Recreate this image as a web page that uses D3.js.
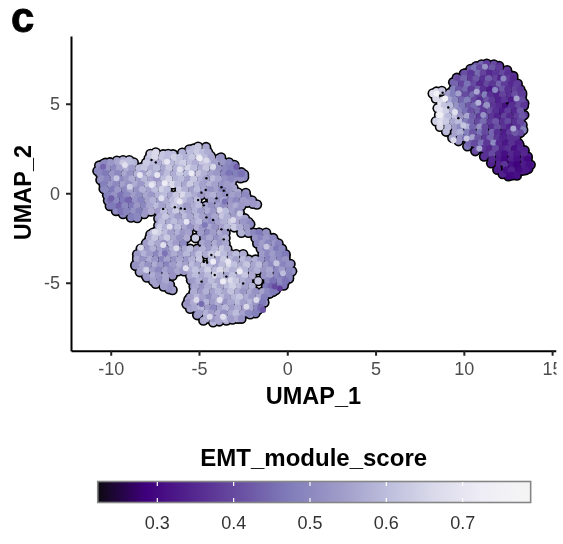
<!DOCTYPE html>
<html>
<head>
<meta charset="utf-8">
<title>EMT module score UMAP</title>
<script src="https://cdn.jsdelivr.net/npm/d3@7"></script>
<style type="text/css">
html, body { margin: 0; padding: 0; background: #fff; }
svg { display: block; font-family: "Liberation Sans", Arial, sans-serif; filter: blur(0.4px); }
</style>
</head>
<body>
<div id="chart"></div>
<script type="text/javascript">
var xTicks = [-10, -5, 0, 5, 10, 15];
var yTicks = [-5, 0, 5];
var scoreTicks = [0.3, 0.4, 0.5, 0.6, 0.7];
var scoreStops = [0.222, 0.285, 0.348, 0.411, 0.474, 0.537, 0.6, 0.663, 0.726, 0.789];
var scoreColors = ["#0c0a10", "#3f007d", "#54278f", "#6a51a3", "#807dba", "#9e9ac8", "#bcbddc", "#dadaeb", "#efedf5", "#f5f5f5"];

// cells along the rim of the large cluster: umap1, umap2, score
var bigEdge = [
-10.75,1.25,.5, -10.65,1.55,.52, -10.4,1.65,.5, -10.05,1.73,.53, -9.65,1.82,.55, -9.3,1.85,.57, -8.95,1.85,.6, -8.7,1.72,.58, -8.25,1.45,.57,
-7.95,1.65,.62, -7.85,1.95,.6, -7.75,2.2,.63, -7.45,2.28,.66, -7.03,2.18,.62, -6.75,2.2,.6, -6.47,2.18,.6, -5.95,2.27,.58, -5.55,2.45,.56, -5.3,2.5,.6, -5.05,2.6,.62, -4.6,2.58,.56,
-4.5,2.3,.57, -4.35,2.1,.56, -4.15,1.75,.55, -3.85,1.95,.54, -3.75,2.0,.52, -3.65,1.75,.53, -3.3,1.72,.5, -3.0,1.58,.48, -2.95,1.3,.47, -2.6,1.17,.49, -2.45,1.05,.5, -2.45,.9,.5,
-2.65,.85,.52, -3.0,.85,.52, -3.15,.6,.55, -3.05,.3,.55, -2.8,.05,.56, -2.35,.02,.52, -2.3,-.2,.5, -2.0,-.4,.52, -1.72,-.62,.55, -1.95,-.58,.53, -2.3,-.52,.54,
-2.72,-.65,.55, -2.7,-1.05,.54, -2.4,-1.4,.55, -2.2,-1.6,.52, -2.1,-1.72,.5, -1.6,-2.2,.5, -1.1,-2.45,.5, -.7,-2.7,.52, -.35,-3.1,.53, -.1,-3.5,.5, .18,-3.95,.5, .27,-4.35,.52,
.1,-4.75,.48, -.2,-5.15,.46, -.65,-5.4,.48, -1.0,-5.6,.5, -1.3,-6.1,.52, -1.65,-6.5,.5, -2.1,-6.75,.54, -2.7,-6.93,.56, -3.1,-7.05,.55, -3.45,-7.1,.57, -3.85,-7.15,.55, -4.2,-7.2,.58, -4.75,-7.1,.56,
-5.1,-6.8,.53, -5.5,-6.45,.55, -5.7,-6.2,.54, -5.6,-5.95,.56, -5.3,-5.6,.55, -5.3,-5.2,.53, -5.45,-4.85,.52, -5.85,-4.35,.54, -6.2,-4.35,.55, -6.4,-4.4,.54, -6.9,-4.8,.52,
-6.65,-5.1,.53, -6.5,-5.4,.54, -6.7,-5.35,.52, -7.0,-5.15,.53, -7.45,-5.05,.55, -7.95,-4.7,.52, -8.35,-4.4,.55, -8.6,-4.05,.53, -8.5,-3.6,.56, -8.25,-3.2,.55, -7.95,-2.75,.57,
-7.65,-2.4,.55, -7.75,-2.3,.56, -7.45,-2.15,.58, -7.3,-1.8,.57, -7.3,-1.4,.55, -7.75,-1.0,.56, -8.1,-1.15,.54, -8.5,-1.38,.52, -8.85,-1.35,.5, -9.3,-1.15,.49, -9.7,-.98,.5,
-10.05,-.7,.47, -10.15,-.4,.49, -10.2,-.1,.48, -10.4,.25,.5, -10.58,.75,.5
];

// interior cells of the large cluster, one list per row: umap1, score
var bigRowY = [2.3, 2.0, 1.7, 1.4, 1.1, 0.8, 0.5, 0.2, -0.1, -0.4, -0.7, -1.0, -1.3, -1.6, -1.9, -2.2, -2.5, -2.8, -3.1, -3.4, -3.7, -4.0, -4.3, -4.6, -4.9, -5.2, -5.5, -5.8, -6.1, -6.4, -6.7, -7.0];
var bigRowCells = [
[-5.5,.6,-5.1,.63,-4.8,.6,-4.5,.57],
[-7.5,.66,-7.1,.62,-6.8,.6,-6.4,.64,-6.1,.61,-5.7,.58,-5.4,.62,-5.0,.66,-4.7,.6,-4.3,.56],
[-10.3,.5,-10,.53,-9.6,.56,-9.3,.62,-8.9,.6,-8,.63,-7.6,.6,-7.3,.57,-6.9,.62,-6.6,.59,-6.2,.61,-5.9,.64,-5.5,.6,-5.2,.57,-4.8,.62,-4.5,.6,-4.1,.55],
[-10.5,.49,-10.2,.52,-9.8,.5,-9.5,.55,-9.1,.58,-8.8,.54,-8.4,.6,-8.1,.62,-7.7,.57,-7.4,.6,-7,.56,-6.7,.62,-6.3,.58,-6,.6,-5.6,.65,-5.3,.6,-4.9,.57,-4.6,.62,-4.2,.58,-3.9,.52,-3.5,.5,-3.2,.48],
[-10.6,.5,-10.3,.47,-9.9,.53,-9.6,.5,-9.2,.56,-8.9,.52,-8.5,.58,-8.2,.55,-7.8,.61,-7.5,.58,-7.1,.55,-6.8,.6,-6.4,.57,-6.1,.63,-5.7,.6,-5.4,.56,-5,.62,-4.7,.58,-4.3,.55,-4,.53,-3.6,.5,-3.3,.46,-2.9,.48,-2.6,.46],
[-10.5,.52,-10.2,.49,-9.8,.54,-9.5,.5,-9.1,.53,-8.8,.57,-8.4,.54,-8.1,.59,-7.7,.56,-7.4,.53,-7,.6,-6.7,.65,-6.3,.58,-6,.6,-5.6,.55,-5.3,.62,-4.9,.58,-4.6,.55,-4.2,.6,-3.9,.56,-3.5,.52,-3.2,.5],
[-10.4,.48,-10,.53,-9.7,.5,-9.3,.55,-9,.52,-8.6,.57,-8.3,.53,-7.9,.6,-7.6,.64,-7.2,.57,-6.9,.62,-6.5,.66,-6.2,.6,-5.8,.56,-5.5,.63,-5.1,.59,-4.8,.55,-4.4,.58,-4.1,.55,-3.7,.52,-3.4,.54],
[-10.3,.5,-9.9,.47,-9.6,.53,-9.2,.5,-8.9,.55,-8.5,.52,-8.2,.58,-7.8,.55,-7.5,.6,-7.1,.64,-6.8,.6,-6.1,.63,-5.8,.58,-5.4,.55,-5.1,.6,-4.7,.56,-4.4,.52,-4,.55,-3.7,.5,-3.3,.53],
[-10.1,.48,-9.8,.52,-9.4,.46,-9.1,.5,-8.7,.54,-8.4,.51,-8,.56,-7.7,.53,-7.3,.58,-7,.6,-6.6,.56,-6.3,.62,-5.9,.66,-5.6,.6,-5.2,.57,-4.9,.53,-4.5,.56,-4.2,.58,-3.8,.54,-3.5,.51,-3.1,.55,-2.8,.53,-2.4,.5],
[-10,.45,-9.7,.5,-9.3,.47,-9,.44,-8.6,.52,-8.3,.49,-7.9,.55,-7.6,.58,-7.2,.54,-6.9,.57,-6.5,.6,-6.2,.64,-5.8,.6,-5.5,.56,-5.1,.6,-4.3,.55,-3.9,.52,-3.6,.56,-3.2,.53,-2.9,.5,-2.5,.54],
[-9.9,.47,-9.5,.44,-9.2,.5,-8.8,.47,-8.5,.53,-8.1,.5,-7.8,.56,-7.4,.6,-7.1,.55,-6.7,.58,-6.4,.62,-6,.58,-5.7,.54,-5.3,.57,-5,.6,-4.6,.56,-4.3,.52,-3.9,.55,-3.6,.51,-3.2,.54,-2.9,.57,-2.6,.53],
[-9.4,.46,-9.1,.49,-8.7,.52,-8.4,.48,-8,.53,-7.7,.57,-7.3,.54,-7,.6,-6.6,.57,-6.3,.63,-5.9,.59,-5.6,.55,-5.2,.58,-4.9,.54,-4.5,.57,-4.2,.53,-3.8,.56,-3.5,.6,-3.1,.55,-2.8,.52],
[-8.8,.48,-8.5,.5,-7.2,.57,-6.9,.62,-6.5,.58,-6.2,.54,-5.8,.6,-5.5,.56,-5.1,.59,-4.8,.55,-4.4,.52,-4.1,.56,-3.7,.62,-3.4,.58,-3,.54,-2.7,.57],
[-7.1,.6,-6.7,.56,-6.4,.6,-6,.57,-5.7,.53,-5.3,.56,-5,.6,-4.6,.54,-4.3,.51,-3.9,.55,-3.6,.58,-3.2,.62,-2.9,.56,-2.5,.53],
[-7.2,.63,-6.9,.58,-6.5,.54,-6.2,.6,-5.8,.56,-5.5,.52,-5.1,.57,-4.8,.53,-4.4,.56,-4.1,.52,-3.7,.55,-3.4,.59,-3,.63,-2.7,.57,-2.3,.53],
[-7.6,.6,-7.3,.64,-6.9,.6,-6.6,.55,-6.2,.58,-5.9,.53,-5.6,.55,-4.9,.54,-4.5,.5,-4.2,.54,-3.8,.57,-3.5,.53,-2.6,.58,-2.2,.54,-1.9,.5,-1.6,.47,-1.2,.52],
[-7.8,.57,-7.5,.62,-7.1,.58,-6.8,.63,-6.4,.56,-6.1,.52,-5.7,.57,-5.2,.63,-4.7,.52,-4.4,.56,-4,.52,-3.7,.55,-3.5,.58,-1.8,.52,-1.5,.49,-1.2,.53,-.8,.5],
[-8,.54,-7.7,.6,-7.3,.56,-7,.52,-6.6,.58,-6.3,.54,-5.9,.5,-4.8,.56,-4.5,.53,-4.1,.57,-3.8,.53,-3.5,.56,-1.7,.5,-1.4,.54,-1.1,.5,-.7,.53,-.5,.49],
[-8.3,.57,-7.9,.53,-7.6,.58,-7.2,.55,-6.9,.51,-6.5,.57,-6.2,.53,-5.8,.56,-5.5,.6,-5.1,.55,-4.8,.58,-4.4,.54,-4.1,.59,-3.7,.62,-3.4,.57,-1.5,.53,-1.2,.49,-.9,.53,-.6,.47,-.3,.5],
[-8.5,.53,-8.1,.58,-7.8,.54,-7.4,.5,-7.1,.56,-6.7,.53,-6.4,.57,-6,.54,-5.7,.59,-5.3,.55,-5,.61,-4.6,.57,-4.3,.62,-3.9,.66,-3.6,.6,-3.2,.56,-2.9,.6,-2.5,.57,-1.4,.54,-1.1,.5,-.8,.54,-.5,.5,-.1,.47],
[-8.5,.56,-8.2,.52,-7.8,.57,-7.5,.53,-7.1,.49,-6.8,.55,-6.4,.52,-6.1,.56,-5.7,.53,-5.4,.58,-5,.62,-4.3,.6,-3.9,.56,-3.6,.63,-3.2,.59,-2.9,.55,-2.5,.6,-2.2,.56,-1.8,.58,-1.5,.53,-1.1,.49,-.8,.53,-.4,.5,-.1,.52],
[-8.6,.52,-8.2,.56,-7.9,.52,-7.5,.57,-7.2,.53,-6.8,.49,-6.5,.54,-6.1,.58,-5.8,.55,-5.4,.6,-5.1,.56,-4.7,.63,-4.4,.59,-4,.55,-3.7,.6,-3.3,.67,-3,.61,-2.6,.57,-2.3,.62,-1.9,.56,-1.6,.6,-1.2,.54,-.9,.5,-.5,.53,-.2,.49,.1,.52],
[-8.3,.55,-8,.58,-7.6,.54,-7.3,.5,-6.9,.55,-6.6,.52,-6.2,.56,-5.9,.53,-5.5,.57,-5.2,.61,-4.8,.58,-4.5,.64,-4.1,.6,-3.8,.66,-3.4,.62,-3.1,.58,-2.7,.63,-2.4,.59,-2,.55,-1.7,.58,-1.3,.53,-1,.56,-.6,.5,-.3,.54,.1,.5],
[-8,.53,-7.6,.57,-7.3,.53,-6.9,.56,-6.5,.52,-5.5,.56,-5.2,.6,-4.8,.56,-4.5,.6,-4.1,.65,-3.8,.6,-3.4,.56,-3.1,.61,-2.7,.57,-2.4,.62,-2,.57,-1.3,.52,-1,.55,-.6,.5,-.3,.47,.1,.49],
[-7.6,.55,-7.2,.52,-6.9,.56,-5.3,.54,-5,.58,-4.6,.55,-4.3,.6,-3.9,.56,-3.6,.62,-3.2,.67,-2.9,.62,-2.5,.58,-2.2,.55,-1.65,.62,-1.1,.5,-.8,.46,-.4,.5,-.1,.46],
[-7,.54,-5.2,.56,-4.8,.52,-4.5,.57,-4.1,.61,-3.8,.56,-3.4,.6,-3.1,.64,-2.7,.6,-2.4,.55,-2,.58,-1.2,.47,-.9,.44,-.5,.48],
[-5.3,.57,-4.9,.53,-4.6,.58,-4.2,.55,-3.9,.59,-3.5,.56,-3.2,.61,-2.8,.57,-2.5,.53,-2.1,.56,-1.8,.52,-1.4,.55,-1.1,.5,-.8,.47],
[-5.5,.55,-5.1,.59,-4.8,.55,-4.4,.51,-4.1,.56,-3.7,.6,-3.4,.55,-3,.59,-2.7,.62,-2.3,.57,-2,.53,-1.6,.56,-1.3,.48],
[-5.6,.52,-5.3,.57,-4.9,.53,-4.6,.58,-4.2,.54,-3.9,.57,-3.5,.52,-3.2,.56,-2.8,.6,-2.5,.55,-2.1,.58,-1.8,.53,-1.4,.47],
[-5.2,.56,-4.9,.59,-4.5,.54,-4.2,.5,-3.8,.55,-3.5,.59,-3.1,.54,-2.8,.57,-2.4,.53,-2.1,.56,-1.7,.5,-1.5,.45],
[-5,.54,-4.6,.58,-4.3,.54,-3.9,.57,-3.6,.52,-3.2,.56,-2.9,.6,-2.5,.55,-2.2,.5,-1.8,.48],
[-4.6,.57,-4.2,.53,-3.9,.56,-3.5,.6,-3.2,.54,-2.8,.57,-2.6,.52]
];

// cells along the rim of the small cluster: umap1, umap2, score
var smallEdge = [
10.7,7.1,.42, 11.0,7.2,.44, 11.3,7.24,.38, 11.7,7.2,.4, 12.0,7.11,.36, 12.45,6.88,.38, 12.8,6.55,.36, 13.05,6.12,.38, 13.3,5.6,.4, 13.42,5.03,.36, 13.42,4.37,.38, 13.32,3.82,.42,
13.36,3.54,.48, 13.2,3.38,.4, 12.97,3.1,.36, 13.15,2.7,.35, 13.44,2.4,.34, 13.62,2.05,.32, 13.78,1.6,.33, 13.65,1.37,.31, 13.3,1.26,.33, 12.9,1.08,.32, 12.52,.96,.3, 12.2,1.08,.34, 11.9,1.32,.33,
11.55,1.68,.34, 11.15,2.06,.36, 10.65,2.36,.4, 10.2,2.63,.46, 9.7,2.92,.52, 9.35,3.1,.56, 9.0,3.45,.6, 8.65,3.72,.66, 8.42,4.03,.64, 8.6,4.37,.7, 8.52,4.75,.68, 8.7,5.05,.7, 8.42,5.3,.66,
8.24,5.58,.68, 8.45,5.68,.66, 8.75,5.72,.62, 9.2,5.6,.56, 9.4,6.2,.44, 9.6,6.45,.42, 10.0,6.68,.4, 10.38,6.95,.42
];

// interior cells of the small cluster, one list per row: umap1, score
var smallRowY = [7.0, 6.7, 6.4, 6.1, 5.8, 5.5, 5.2, 4.9, 4.6, 4.3, 4.0, 3.7, 3.4, 3.1, 2.8, 2.5, 2.2, 1.9, 1.6, 1.3, 1.0];
var smallRowCells = [
[10.6,.46,10.9,.4,11.3,.36,11.6,.42,12,.38],
[10.1,.41,10.4,.37,10.8,.45,11.1,.39,11.5,.35,11.8,.37,12.2,.4,12.5,.36],
[9.7,.4,10,.44,10.4,.38,10.7,.42,11.1,.36,11.4,.43,11.8,.39,12.1,.34,12.5,.38,12.8,.35],
[9.5,.44,9.9,.39,10.2,.46,10.6,.4,10.9,.35,11.3,.4,11.6,.37,12,.44,12.3,.38,12.7,.35,13,.38],
[9.4,.48,9.7,.42,10.1,.45,10.4,.38,10.8,.43,11.1,.36,11.5,.33,11.8,.38,12.2,.42,12.5,.36,12.9,.39,13.2,.37],
[9.1,.54,9.4,.48,9.8,.43,10.1,.4,10.5,.45,10.8,.39,11.2,.48,11.5,.36,11.9,.34,12.2,.39,12.6,.36,12.9,.41,13.3,.38],
[8.8,.66,9.2,.56,9.5,.5,9.9,.44,10.2,.48,10.6,.4,10.9,.36,11.3,.42,11.6,.38,12,.34,12.3,.37,12.7,.33,13,.37,13.3,.4],
[8.9,.62,9.2,.6,9.6,.52,9.9,.47,10.3,.42,10.6,.45,11,.38,11.3,.52,11.7,.37,12,.35,12.4,.31,12.7,.36,13.1,.4,13.4,.37],
[8.7,.7,9,.64,9.4,.57,9.7,.5,10.1,.46,10.4,.41,10.8,.44,11.1,.38,11.5,.41,11.8,.36,12.2,.33,12.5,.38,12.9,.35,13.2,.42],
[8.8,.66,9.1,.6,9.5,.62,9.8,.52,10.2,.56,10.5,.43,10.9,.38,11.2,.42,11.6,.37,11.9,.34,12.3,.39,12.6,.35,13,.38,13.3,.42],
[8.7,.68,9,.63,9.4,.56,9.7,.6,10.1,.48,10.4,.44,10.8,.4,11.1,.45,11.5,.38,11.8,.42,12.2,.36,12.5,.4,12.9,.36,13.2,.4],
[9.1,.6,9.5,.54,9.8,.5,10.2,.58,10.5,.44,10.9,.52,11.2,.4,11.6,.36,11.9,.41,12.3,.37,12.6,.34,13,.37],
[9.5,.55,9.8,.58,10.2,.48,10.5,.42,10.9,.46,11.2,.4,11.6,.44,11.9,.36,12.3,.33,12.6,.38,12.9,.42],
[9.8,.52,10.1,.46,10.5,.55,10.8,.42,11.2,.38,11.5,.44,11.9,.37,12.2,.34,12.6,.36],
[10.3,.44,10.6,.4,11,.46,11.3,.37,11.7,.5,12,.35,12.4,.32,12.7,.36,13.1,.33],
[10.8,.42,11.1,.37,11.5,.35,11.8,.4,12.2,.34,12.5,.36,12.9,.31,13.2,.34],
[11.3,.36,11.6,.4,12,.34,12.3,.31,12.7,.35,13,.32,13.4,.35],
[11.6,.35,12,.33,12.3,.3,12.7,.34,13,.31,13.4,.33,13.6,.3],
[12,.34,12.3,.37,12.7,.31,13,.29,13.4,.33,13.7,.31],
[12.4,.31,12.7,.34,13.1,.3,13.5,.32],
[12.7,.3,13,.31]
];

// cells that stand out on top of the others: umap1, umap2, score
var topCells = [
-9.2,1.58,.68, -8.35,1.03,.7, -7.37,1.03,.7, -6.81,1.77,.7, -6.09,1.34,.68, -4.96,1.96,.72, -6.94,.56,.72, -6.09,-.46,.7, -5.71,-1.58,.7, -7.5,-2.14,.68, -8.3,-3.02,.66, -5.75,-4.19,.68,
-4.58,1.83,.66, -5.43,1.12,.72, -7.69,.47,.7, -7.13,-.28,.68, -8.92,.37,.64, -9.67,.84,.62, -6.66,-1.86,.68, -4.2,1.49,.66, -3.83,-.93,.66, -3.07,-1.49,.66, -2.69,-1.12,.64, -7.03,-2.88,.68,
-6.28,-3.07,.66, -7.98,-4.28,.64, -4.2,-3.82,.72, -3.64,-4.93,.72, -5.15,-5.96,.66, -3.35,-3.82,.7, -2.69,-4.37,.72, -1.75,-5.96,.66, -2.32,-6.33,.66, -3.83,-5.96,.68, -4.39,-6.89,.66,
-3.64,-6.89,.68, -.62,-3.91,.62, -1.18,-2.98,.62, -.24,-4.47,.6,
-9.96,-.28,.43, -10.43,1.49,.44, -2.88,1.49,.43, -4.86,-6.18,.45, -1.37,-6.52,.42, -.43,-5.31,.38, -.71,-5.21,.4, -6.94,-3.35,.46, -4.67,-1.77,.47, -3.54,-.46,.46,
10.73,5.67,.56, 10.82,5.06,.58, 12.24,6.42,.5, 11.77,5.77,.5, 11.2,7.07,.52, 9.69,5.58,.55, 12.8,3.62,.56, 10.88,2.51,.56, 9.97,3.81,.62, 10.16,3.07,.62, 9.41,2.97,.66, 11.1,4.37,.52,
12.99,5.3,.55, 9.5,4.55,.68, 8.65,4.37,.74, 8.94,5.3,.74, 8.46,5.58,.76
];

// places where the dark layer shows between cells: umap1, umap2
var gaps = [
-7.69,1.86, -7.45,1.73, -4.58,.84, -4.62,.19, -4.86,.04, -5.05,-.37, -4.58,-.41, -4.73,-.67, -4.01,-.28, -3.73,.34, -3.6,.15, -3.41,-.09, -6.03,-.84, -6.37,-.78, -7.03,-.87, -5.81,-.87,
-4.58,-1.34, -4.2,-1.49, -3.73,-2.01, -3.35,-2.05, -3.6,-2.57, -4.3,-3.44, -4.73,-3.83, -4.54,-3.87, -4.96,-2.92, -4.11,-4.56, -3.45,-4.65, -2.5,-5.03, -4.86,-4.93,
8.8,5.62, 9.12,4.8, 9.69,4.2, 12.14,1.49, 12.46,5.02
];

var cells = [];
function addEdge(list, target) {
	for (var i = 0; i < list.length; i += 3) target.push({x: list[i], y: list[i + 1], score: list[i + 2]});
}
function addRows(rowY, rows) {
	rows.forEach(function (row, r) {
		for (var i = 0; i < row.length; i += 2) cells.push({x: row[i], y: rowY[r], score: row[i + 1]});
	});
}
addEdge(bigEdge, cells);
addRows(bigRowY, bigRowCells);
addEdge(smallEdge, cells);
addRows(smallRowY, smallRowCells);
var topDots = [];
addEdge(topCells, topDots);
var gapDots = [];
for (var g = 0; g < gaps.length; g += 2) gapDots.push({x: gaps[g], y: gaps[g + 1]});

var width = 563, height = 544;
var svg = d3.select("#chart").append("svg").attr("width", width).attr("height", height);

// source figure is cropped just after the 15 tick
svg.append("clipPath").attr("id", "crop").append("rect")
	.attr("width", 556.5).attr("height", height);
var root = svg.append("g").attr("clip-path", "url(#crop)");

var x = d3.scaleLinear().domain([-12.25, 15.22]).range([71, 556]);
var y = d3.scaleLinear().domain([-8.79, 8.79]).range([350.7, 36]);
var color = d3.scaleLinear().domain(scoreStops).range(scoreColors);

function drawDots(data, r, fill) {
	root.append("g").selectAll("circle").data(data).enter().append("circle")
		.attr("cx", function (d) { return x(d.x); })
		.attr("cy", function (d) { return y(d.y); })
		.attr("r", r)
		.attr("fill", fill);
}
drawDots(cells, 5.3, "#000");
drawDots(cells, 3.7, function (d) { return color(d.score); });
drawDots(topDots, 3, function (d) { return color(d.score); });
drawDots(gapDots, 1.2, "#000");

var xAxis = root.append("g").attr("transform", "translate(0,350.7)")
	.call(d3.axisBottom(x).tickValues(xTicks).tickFormat(String).tickSize(5).tickPadding(7).tickSizeOuter(0));
var yAxis = root.append("g").attr("transform", "translate(71,0)")
	.call(d3.axisLeft(y).tickValues(yTicks).tickFormat(String).tickSize(5).tickPadding(6).tickSizeOuter(0));
[xAxis, yAxis].forEach(function (a) {
	a.selectAll(".domain").attr("stroke", "#000").attr("stroke-width", 2);
	a.selectAll(".tick line").attr("stroke", "#222").attr("stroke-width", 2);
	a.selectAll(".tick text").attr("fill", "#4d4d4d").style("font-size", "18px").style("font-family", "Liberation Sans");
});

root.append("text").attr("x", 313.5).attr("y", 404).attr("text-anchor", "middle")
	.style("font-size", "23.5px").style("font-weight", "bold").text("UMAP_1");
root.append("text").attr("transform", "translate(31,192.5) rotate(-90)").attr("text-anchor", "middle")
	.style("font-size", "23.5px").style("font-weight", "bold").text("UMAP_2");
svg.append("text").attr("x", 11).attr("y", 32)
	.style("font-size", "42px").style("font-weight", "bold")
	.attr("stroke", "#000").attr("stroke-width", 0.8).text("c");

// colour bar
var legendScale = d3.scaleLinear().domain([0.3, 0.7]).range([157.3, 462.7]);
var barLeft = legendScale(scoreStops[0]), barRight = legendScale(scoreStops[scoreStops.length - 1]);
var grad = svg.append("defs").append("linearGradient").attr("id", "scoreGrad");
grad.selectAll("stop").data(scoreStops).enter().append("stop")
	.attr("offset", function (d) { return (legendScale(d) - barLeft) / (barRight - barLeft); })
	.attr("stop-color", function (d) { return color(d); });
svg.append("rect").attr("x", barLeft).attr("y", 481.5).attr("width", barRight - barLeft).attr("height", 21)
	.attr("fill", "url(#scoreGrad)").attr("stroke", "#858585").attr("stroke-width", 1.6);

var tick = svg.append("g").selectAll("g").data(scoreTicks).enter().append("g")
	.attr("transform", function (d) { return "translate(" + legendScale(d) + ",0)"; });
tick.append("line").attr("y1", 482).attr("y2", 486).attr("stroke", "#fff").attr("stroke-width", 1.2);
tick.append("line").attr("y1", 498).attr("y2", 502).attr("stroke", "#fff").attr("stroke-width", 1.2);
tick.append("text").attr("y", 529).attr("text-anchor", "middle")
	.attr("fill", "#333").style("font-size", "18px").text(function (d) { return d.toFixed(1); });

svg.append("text").attr("x", 313.7).attr("y", 466).attr("text-anchor", "middle")
	.style("font-size", "24px").style("font-weight", "bold").text("EMT_module_score");
</script>
</body>
</html>
